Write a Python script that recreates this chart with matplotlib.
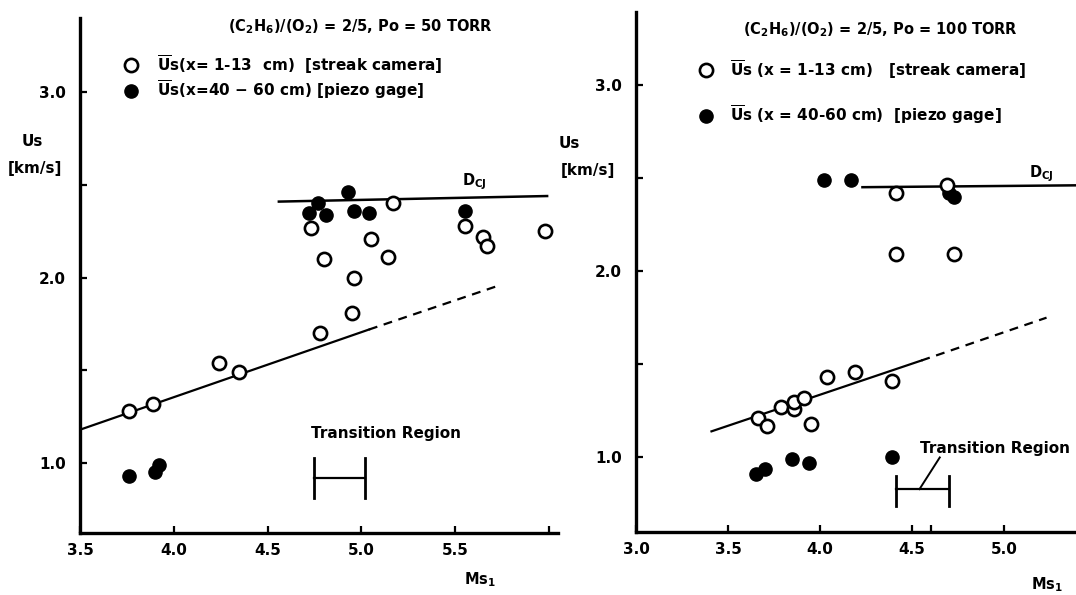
#!/usr/bin/env python3

# Import Packages
import matplotlib
matplotlib.use('Agg')
import matplotlib.pyplot as plt # Matplotlib plot

plt.rcParams['font.family'] = 'DejaVu Sans'
plt.rcParams['font.weight'] = 'bold'
plt.rcParams['mathtext.fontset'] = 'dejavusans'
plt.rcParams['mathtext.default'] = 'bf'

# ---- Data : Po = 50 TORR (left panel) ----
streak50_ms = [3.76, 3.89, 4.24, 4.35, 4.78, 4.95, 4.73, 4.80, 4.96, 5.05, 5.14, 5.17, 5.55, 5.65, 5.67, 5.98]
streak50_us = [1.28, 1.32, 1.54, 1.49, 1.70, 1.81, 2.27, 2.10, 2.00, 2.21, 2.11, 2.40, 2.28, 2.22, 2.17, 2.25]
piezo50_ms = [3.76, 3.90, 3.92, 4.72, 4.77, 4.81, 4.93, 4.96, 5.04, 5.55]
piezo50_us = [0.93, 0.95, 0.99, 2.35, 2.40, 2.34, 2.46, 2.36, 2.35, 2.36]
fit50_solid = ([3.50, 5.04], [1.18, 1.72])
fit50_dash = ([5.04, 5.74], [1.72, 1.96])
dcj50 = ([4.56, 5.99], [2.41, 2.44])
trans50 = (4.75, 5.02)

# ---- Data : Po = 100 TORR (right panel) ----
streak100_ms = [3.66, 3.71, 3.79, 3.86, 3.86, 3.91, 3.95, 4.04, 4.19, 4.39, 4.41, 4.69, 4.41, 4.73]
streak100_us = [1.21, 1.17, 1.27, 1.26, 1.30, 1.32, 1.18, 1.43, 1.46, 1.41, 2.42, 2.46, 2.09, 2.09]
piezo100_ms = [3.65, 3.70, 3.85, 3.94, 4.39, 4.02, 4.17, 4.70, 4.73]
piezo100_us = [0.91, 0.94, 0.99, 0.97, 1.00, 2.49, 2.49, 2.42, 2.40]
fit100_solid = ([3.41, 4.55], [1.14, 1.52])
fit100_dash = ([4.55, 5.23], [1.52, 1.75])
dcj100 = ([4.23, 5.39], [2.45, 2.46])
trans100 = (4.41, 4.70)

# Figure 1076 x 595
fig = plt.figure(figsize=(10.76, 5.95), dpi=100)

# Axes placed in pixel terms (left, bottom, width, height)
axL = fig.add_axes([80/1076, 1-533/595, 478/1076, 515/595])
axR = fig.add_axes([636/1076, 1-532/595, 440/1076, 520/595])

# Style one panel
def style_axis(ax, xlim, ylim, xticks, xlabels):
    ax.set_xlim(*xlim)
    ax.set_ylim(*ylim)
    for s in ['top', 'right']:
        ax.spines[s].set_visible(False)
    for s in ['left', 'bottom']:
        ax.spines[s].set_linewidth(2.4)
    ax.set_xticks(xticks)
    ax.set_xticklabels(xlabels)
    ax.set_yticks([1.0, 1.5, 2.0, 2.5, 3.0])
    ax.set_yticklabels(['1.0', '', '2.0', '', '3.0'])
    ax.tick_params(direction='in', length=5, width=1.6, labelsize=11, pad=7)
    ax.tick_params(axis='y', pad=10)

# Draw the markers, fit line and D_CJ line of one panel
def draw_panel(ax, sx, sy, px, py, solid, dash, dcj, filled_on_top):
    ax.plot(*solid, color='black', lw=1.6, zorder=2)
    ax.plot(*dash, color='black', lw=1.6, ls=(0, (4, 3)), zorder=2)
    ax.plot(*dcj, color='black', lw=1.8, zorder=2)
    zf, zo = (4, 3) if filled_on_top else (3, 4)
    ho, = ax.plot(sx, sy, 'o', ms=9.5, mfc='white', mec='black', mew=1.9, zorder=zo)
    hf, = ax.plot(px, py, 'o', ms=9.5, mfc='black', mec='black', mew=1.0, zorder=zf)
    return ho, hf

# Transition region bracket
def draw_bracket(ax, xs, ybar, yspan):
    ax.plot(xs, [ybar, ybar], color='black', lw=1.6)
    for xv in xs:
        ax.plot([xv, xv], yspan, color='black', lw=2.0)

style_axis(axL, (3.5, 6.048), (0.623, 3.40), [3.5, 4.0, 4.5, 5.0, 5.5, 6.0],
           ['3.5', '4.0', '4.5', '5.0', '5.5', ''])
style_axis(axR, (3.0, 5.39), (0.60, 3.39), [3.0, 3.5, 4.0, 4.5, 4.6, 5.0],
           ['3.0', '3.5', '4.0', '4.5', '', '5.0'])

hoL, hfL = draw_panel(axL, streak50_ms, streak50_us, piezo50_ms, piezo50_us,
                      fit50_solid, fit50_dash, dcj50, True)
hoR, hfR = draw_panel(axR, streak100_ms, streak100_us, piezo100_ms, piezo100_us,
                      fit100_solid, fit100_dash, dcj100, False)

draw_bracket(axL, trans50, 0.92, [0.81, 1.03])
axL.text(4.73, 1.16, 'Transition Region', fontsize=11, va='center', ha='left')
draw_bracket(axR, trans100, 0.83, [0.74, 0.90])
axR.plot([4.54, 4.65], [0.83, 1.00], color='black', lw=1.4)
axR.text(4.54, 1.05, 'Transition Region', fontsize=11, va='center', ha='left')

# D_CJ labels
axL.text(5.60, 2.515, r'D$_{\mathbf{CJ}}$', fontsize=10.5, ha='center', va='center')
axR.text(5.20, 2.525, r'D$_{\mathbf{CJ}}$', fontsize=10.5, ha='center', va='center')

# Titles
fig.text(360/1076, 1-27/595, r'(C$_2$H$_6$)/(O$_2$) = 2/5, Po = 50 TORR',
         fontsize=10.5, ha='center', va='center')
fig.text(880/1076, 1-30/595, r'(C$_2$H$_6$)/(O$_2$) = 2/5, Po = 100 TORR',
         fontsize=10.5, ha='center', va='center')

# Legends
fig.legend([hoL, hfL],
           [r'$\overline{U}$s(x= 1-13  cm)  [streak camera]',
            r'$\overline{U}$s(x=40 $-$ 60 cm) [piezo gage]'],
           loc='upper left', bbox_to_anchor=(123/1076, 1-53/595), frameon=False,
           fontsize=11, handlelength=1.0, handletextpad=1.2, labelspacing=0.18,
           borderpad=0, borderaxespad=0)
fig.legend([hoR, hfR],
           [r'$\overline{U}$s (x = 1-13 cm)   [streak camera]',
            r'$\overline{U}$s (x = 40-60 cm)  [piezo gage]'],
           loc='upper left', bbox_to_anchor=(698/1076, 1-58/595), frameon=False,
           fontsize=11, handlelength=1.0, handletextpad=1.07, labelspacing=1.47,
           borderpad=0, borderaxespad=0)

# Axis labels
fig.text(32/1076, 1-142/595, 'Us', fontsize=11, ha='center', va='center')
fig.text(35/1076, 1-168/595, '[km/s]', fontsize=11, ha='center', va='center')
fig.text(569/1076, 1-143/595, 'Us', fontsize=11, ha='center', va='center')
fig.text(588/1076, 1-170/595, '[km/s]', fontsize=11, ha='center', va='center')
fig.text(480/1076, 1-580/595, r'Ms$_1$', fontsize=10.5, ha='center', va='center')
fig.text(1047/1076, 1-585/595, r'Ms$_1$', fontsize=10.5, ha='center', va='center')

fig.savefig('out.png', dpi=100)
